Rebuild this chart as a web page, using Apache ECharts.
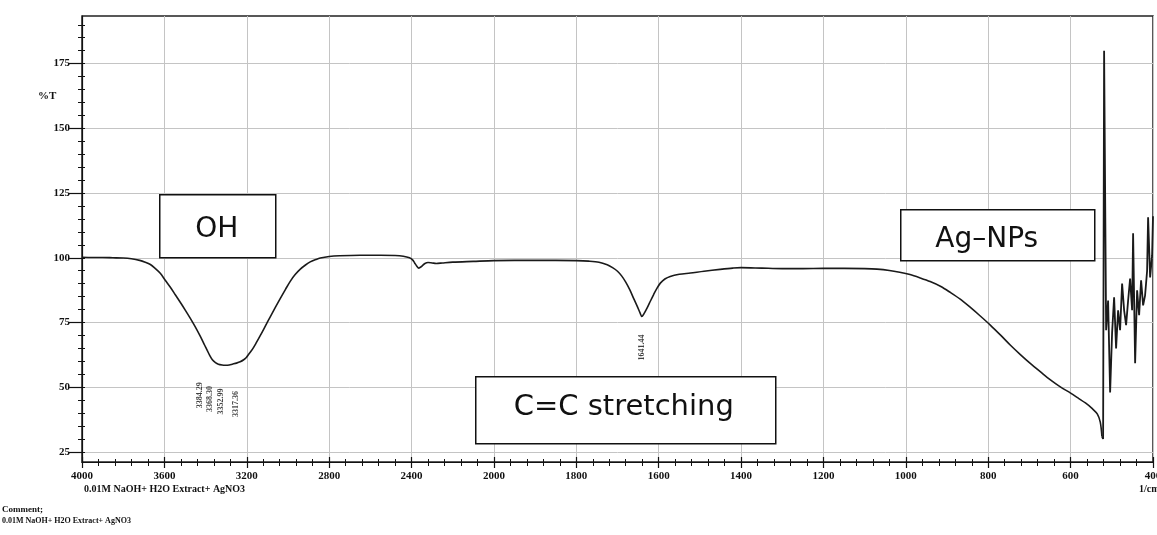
<!DOCTYPE html>
<html>
<head>
<meta charset="utf-8">
<script src="https://cdn.jsdelivr.net/npm/echarts@6/dist/echarts.min.js"></script>
<style>
  html, body { margin: 0; padding: 0; background: #ffffff; }
  #chart { width: 1157px; height: 535px; }
</style>
</head>
<body>
<div id="chart"></div>
<script>
// FTIR spectrum: 0.01M NaOH + H2O extract + AgNO3
const wavenumbers = [
  4000, 3950, 3900, 3850, 3800, 3760, 3720, 3693, 3668, 3645, 3620, 3595, 3571, 3547,
  3523, 3498, 3474, 3450, 3426, 3405, 3392, 3380, 3367, 3352, 3338, 3320, 3304, 3285,
  3270, 3250, 3232, 3215, 3202, 3188, 3173, 3155, 3134, 3110, 3086, 3060, 3037, 3012,
  2989, 2965, 2940, 2915, 2892, 2865, 2843, 2800, 2750, 2650, 2550, 2480, 2440, 2410,
  2395, 2385, 2375, 2365, 2358, 2348, 2335, 2320, 2300, 2280, 2250, 2200, 2100, 2000,
  1950, 1900, 1850, 1800, 1770, 1745, 1725, 1712, 1700, 1690, 1680, 1670, 1660, 1652,
  1645, 1641, 1636, 1628, 1620, 1612, 1604, 1596, 1585, 1572, 1550, 1523, 1490, 1451,
  1420, 1400, 1350, 1300, 1250, 1200, 1150, 1100, 1070, 1040, 1015, 990, 965, 941,
  915, 892, 868, 844, 820, 795, 770, 746, 722, 698, 673, 649, 625, 600, 580, 564,
  548, 535, 528, 524
];
const transmittance = [
  100.2, 100.1, 100.1, 100.0, 99.9, 99.6, 99.0, 98.3, 97.4, 95.9, 94.0, 91.2, 88.6, 85.7,
  82.8, 79.7, 76.6, 73.3, 69.7, 66.3, 64.2, 62.3, 60.6, 59.5, 58.9, 58.6, 58.5, 58.6,
  58.9, 59.3, 59.8, 60.6, 61.5, 63.0, 64.6, 67.0, 70.0, 73.6, 77.2, 81.0, 84.3, 87.8,
  90.9, 93.5, 95.6, 97.2, 98.4, 99.3, 99.9, 100.5, 100.8, 101.0, 101.0, 100.9, 100.6, 100.0,
  99.2, 98.0, 96.8, 96.0, 96.3, 96.9, 97.8, 98.2, 98.0, 97.8, 98.0, 98.3, 98.6, 98.9,
  99.0, 99.0, 99.0, 98.9, 98.7, 98.3, 97.3, 96.2, 94.8, 93.0, 90.6, 87.6, 84.0, 81.2,
  78.6, 77.3, 78.3, 80.6, 83.3, 85.9, 88.3, 90.2, 91.8, 92.8, 93.6, 94.1, 94.8, 95.5,
  96.0, 96.2, 96.0, 95.8, 95.8, 95.9, 95.9, 95.8, 95.6, 95.1, 94.4, 93.5, 92.2, 90.8,
  88.9, 86.6, 84.0, 80.9, 77.6, 74.0, 70.1, 66.2, 62.6, 59.2, 55.9, 52.8, 50.1, 47.7, 45.6, 43.9,
  41.8, 39.6, 36.5, 31.0
];
// low-wavenumber detector noise region
const noiseWavenumbers = [
  524, 521.1, 518.7, 513.8, 509.0, 504.1, 499.3, 494.4, 489.6, 484.7, 479.9, 475.0, 470.1,
  465.3, 460.4, 455.6, 450.7, 448.3, 443.4, 438.6, 433.7, 428.9, 424.0, 419.2, 414.3,
  411.9, 407.0, 402.2, 400
];
const noiseTransmittance = [
  31.0, 30.0, 180.0, 72.0, 83.5, 48.0, 71.0, 84.7, 65.0, 79.7, 72.0, 90.0, 79.7,
  74.0, 83.5, 92.0, 79.7, 109.5, 59.3, 87.4, 77.8, 91.3, 81.6, 85.5, 95.0,
  115.6, 92.4, 100.9, 116.0
];
// picked peaks
const peakWavenumbers = [3384.29, 3368.30, 3352.99, 3317.36, 1641.44];
const peakTransmittance = [62.0, 60.5, 59.5, 58.6, 77.3];

const xTickLabels = ['4000', '3600', '3200', '2800', '2400', '2000', '1800', '1600',
  '1400', '1200', '1000', '800', '600', '400'];
const yTickValues = [25, 50, 75, 100, 125, 150, 175];
const yMinorValues = [];
for (let v = 25; v <= 190; v += 5) yMinorValues.push(v);

// The instrument's abscissa is split: 400 cm-1 per division above 2000, 200 cm-1 below.
function toDivision(w) {
  return w >= 2000 ? (4000 - w) / 400 : 5 + (2000 - w) / 200;
}
const pairs = (ws, ts) => ws.map((w, i) => [toDivision(w), ts[i]]);

const serif = 'Liberation Serif, Times New Roman, serif';
const sans = 'DejaVu Sans, Verdana, sans-serif';
const ink = '#111';
const Y_MIN = 21.1, Y_MAX = 193.4;

const chart = echarts.init(document.getElementById('chart'), null, { renderer: 'canvas' });

// label layout for the picked peaks: sideways shift and drop below the trace
const peakShift = [-9, -2, 6, 13, 0];
const peakDrop = [26, 26, 26, 26, 18];

const option = {
  animation: false,
  backgroundColor: '#ffffff',
  grid: {
    left: 82, right: 4, top: 16, bottom: 73,
    outerBoundsMode: 'none', containLabel: false,
    show: true, borderColor: '#222', borderWidth: 1.5, backgroundColor: 'transparent'
  },
  xAxis: [
    {
      type: 'value', min: 0, max: 13, interval: 1, position: 'bottom',
      axisLine: { show: true, lineStyle: { color: ink, width: 1.2 } },
      axisTick: { show: true, length: 6, lineStyle: { color: ink, width: 1.2 } },
      minorTick: { show: true, splitNumber: 5, length: 4, lineStyle: { color: ink, width: 1 } },
      splitLine: { show: true, lineStyle: { color: '#c4c4c4', width: 1 } },
      axisLabel: {
        show: true, margin: 9, color: ink, fontFamily: serif, fontWeight: 'bold', fontSize: 11,
        hideOverlap: false,
        formatter: v => xTickLabels[Math.round(v)] || ''
      }
    },
    {
      type: 'value', min: 0, max: 13, interval: 1, position: 'bottom',
      axisLine: { show: false },
      axisTick: { show: true, inside: true, length: 5, lineStyle: { color: ink, width: 1.2 } },
      minorTick: { show: true, splitNumber: 5, length: 3, lineStyle: { color: ink, width: 1 } },
      splitLine: { show: false },
      axisLabel: { show: false }
    }
  ],
  yAxis: [
    {
      type: 'value', min: Y_MIN, max: Y_MAX, position: 'left',
      axisLine: { show: true, lineStyle: { color: ink, width: 1.2 } },
      axisTick: { show: true, length: 14, customValues: yTickValues, lineStyle: { color: ink, width: 1.2 } },
      splitLine: { show: true, lineStyle: { color: '#c4c4c4', width: 1 } },
      axisLabel: {
        show: true, margin: 12, customValues: yTickValues, color: ink,
        fontFamily: serif, fontWeight: 'bold', fontSize: 11
      }
    },
    {
      type: 'value', min: Y_MIN, max: Y_MAX, position: 'left',
      axisLine: { show: false },
      axisTick: { show: true, length: 4, customValues: yMinorValues, lineStyle: { color: ink, width: 1 } },
      splitLine: { show: false },
      axisLabel: { show: false }
    },
    {
      type: 'value', min: Y_MIN, max: Y_MAX, position: 'left',
      axisLine: { show: false },
      axisTick: { show: true, inside: true, length: 3, customValues: yMinorValues, lineStyle: { color: ink, width: 1 } },
      splitLine: { show: false },
      axisLabel: { show: false }
    }
  ],
  series: [
    {
      type: 'line', name: 'spectrum', xAxisIndex: 0, yAxisIndex: 0,
      data: pairs(wavenumbers, transmittance),
      showSymbol: false, smooth: 0.3,
      lineStyle: { color: '#1a1a1a', width: 1.6 }
    },
    {
      type: 'line', name: 'noise', xAxisIndex: 0, yAxisIndex: 0,
      data: pairs(noiseWavenumbers, noiseTransmittance),
      showSymbol: false, smooth: false,
      lineStyle: { color: '#1a1a1a', width: 1.8 }
    },
    {
      type: 'scatter', name: 'peaks', xAxisIndex: 0, yAxisIndex: 0,
      symbolSize: 0,
      data: pairs(peakWavenumbers, peakTransmittance).map((p, i) => ({
        value: p,
        label: { offset: [0, peakShift[i]], distance: peakDrop[i] }
      })),
      label: {
        show: true, position: 'bottom', rotate: 90,
        align: 'right', verticalAlign: 'middle',
        color: ink, fontFamily: serif, fontWeight: 'bold', fontSize: 8,
        formatter: p => peakWavenumbers[p.dataIndex].toFixed(2)
      }
    }
  ],
  graphic: [
    { type: 'text', left: 38, top: 91, style: { text: '%T', fill: ink, font: 'bold 11px ' + serif } },
    { type: 'text', left: 84, top: 484, style: { text: '0.01M NaOH+ H2O Extract+ AgNO3', fill: ink, font: 'bold 10px ' + serif } },
    { type: 'text', left: 1139, top: 484, style: { text: '1/cm', fill: ink, font: 'bold 10px ' + serif } },
    { type: 'text', left: 2, top: 505, style: { text: 'Comment;', fill: ink, font: 'bold 9px ' + serif } },
    { type: 'text', left: 2, top: 517, style: { text: '0.01M NaOH+ H2O Extract+ AgNO3', fill: ink, font: 'bold 8px ' + serif } },
    {
      type: 'group', left: 159, top: 194, z: 100, children: [
        { type: 'rect', z: 100, shape: { x: 0, y: 0, width: 116, height: 63 }, style: { fill: '#fff', stroke: ink, lineWidth: 1.5 } },
        { type: 'text', z: 101, x: 57, y: 35, style: { text: 'OH', fill: ink, font: '28px ' + sans, align: 'center', verticalAlign: 'middle' } }
      ]
    },
    {
      type: 'group', left: 900, top: 209, z: 100, children: [
        { type: 'rect', z: 100, shape: { x: 0, y: 0, width: 194, height: 51 }, style: { fill: '#fff', stroke: ink, lineWidth: 1.5 } },
        { type: 'text', z: 101, x: 86, y: 30, style: { text: 'Ag–NPs', fill: ink, font: '28px ' + sans, align: 'center', verticalAlign: 'middle' } }
      ]
    },
    {
      type: 'group', left: 475, top: 376, z: 100, children: [
        { type: 'rect', z: 100, shape: { x: 0, y: 0, width: 300, height: 67 }, style: { fill: '#fff', stroke: ink, lineWidth: 1.5 } },
        { type: 'text', z: 101, x: 148, y: 31, style: { text: 'C=C stretching', fill: ink, font: '29px ' + sans, align: 'center', verticalAlign: 'middle' } }
      ]
    }
  ]
};

chart.setOption(option);
</script>
</body>
</html>
